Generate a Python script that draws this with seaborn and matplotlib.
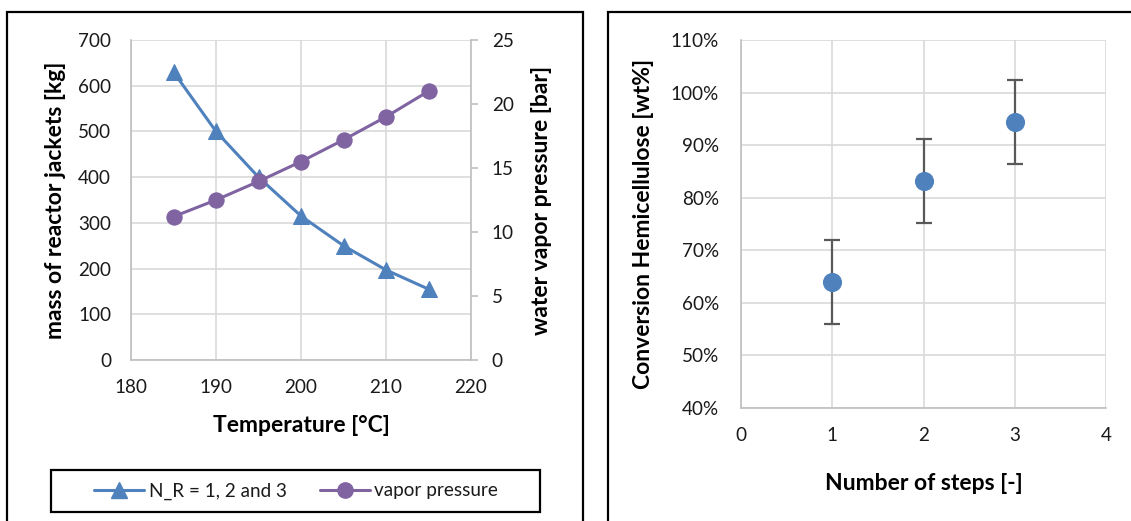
import matplotlib
matplotlib.use("Agg")
import matplotlib.pyplot as plt
import matplotlib.patches as mpatches
from matplotlib.lines import Line2D
from matplotlib.ticker import FuncFormatter, MultipleLocator
import seaborn as sns
import pandas as pd
import numpy as np

# ---- data ----
temperature = [185, 190, 195, 200, 205, 210, 215]
jacket_mass = [630, 500, 400, 315, 250, 197, 155]
vapor_pressure = [11.2, 12.5, 13.95, 15.5, 17.2, 19.0, 21.0]
steps = [1, 2, 3]
conversion = [0.640, 0.832, 0.944]
conversion_err = [0.08, 0.08, 0.08]

series1_label = "N_R = 1, 2 and 3"
series2_label = "vapor pressure"

BLUE = "#4F81BD"
PURPLE = "#8064A2"
GRID = "#d9d9d9"
SPINE = "#bfbfbf"
TXT = "#1a1a1a"

sns.set_theme(style="white")
plt.rcParams["font.family"] = ["Lato", "DejaVu Sans"]

W, H = 1131, 521
fig = plt.figure(figsize=(W / 100, H / 100), dpi=100)

def ax_rect(l, r, t, b):
    return [l / W, (H - b) / H, (r - l) / W, (b - t) / H]

def frame(l, r, t, b, lw=1.6):
    fig.patches.append(mpatches.Rectangle((l / W, (H - b) / H), (r - l) / W, (b - t) / H,
                                          transform=fig.transFigure, fill=False,
                                          edgecolor="black", linewidth=lw, zorder=0))

# panel borders
frame(7, 583, 12, 530)
frame(608, 1200, 12, 530)

TICK_FS = 13.6
LAB_FS = 16.5

# ---- left panel ----
L1, R1, T1, B1 = 131, 471, 40, 360
ax1 = fig.add_axes(ax_rect(L1, R1, T1, B1))
df1 = pd.DataFrame({"T": temperature, "m": jacket_mass, "p": vapor_pressure})
sns.lineplot(data=df1, x="T", y="m", ax=ax1, color=BLUE, marker="^", markersize=11.5,
             markeredgecolor=BLUE, linewidth=2.2, zorder=3)
ax1.set_xlim(180, 220)
ax1.set_ylim(0, 700)
ax1.xaxis.set_major_locator(MultipleLocator(10))
ax1.yaxis.set_major_locator(MultipleLocator(100))
ax1.grid(True, color=GRID, linewidth=1.2)
ax1.set_axisbelow(True)
for s in ["top", "right"]:
    ax1.spines[s].set_visible(False)
for s in ["left", "bottom"]:
    ax1.spines[s].set_color(SPINE)
    ax1.spines[s].set_linewidth(1.2)
ax1.tick_params(axis="both", length=0, labelsize=TICK_FS, labelcolor=TXT)
ax1.tick_params(axis="y", pad=14.4)
ax1.tick_params(axis="x", pad=14)
ax1.set_xlabel("Temperature [°C]", fontsize=LAB_FS, fontweight="bold", color="black")
ax1.set_ylabel("mass of reactor jackets [kg]", fontsize=LAB_FS, fontweight="bold", color="black")
ax1.xaxis.set_label_coords(0.5, -(425 - B1) / (B1 - T1))
ax1.xaxis.label.set_va("center")
ax1.yaxis.set_label_coords(-(L1 - 56) / (R1 - L1), 0.5)
ax1.yaxis.label.set_va("center")

ax2 = ax1.twinx()
sns.lineplot(data=df1, x="T", y="p", ax=ax2, color=PURPLE, marker="o", markersize=11,
             markeredgecolor=PURPLE, linewidth=2.2, zorder=3)
ax2.set_ylim(0, 25)
ax2.yaxis.set_major_locator(MultipleLocator(5))
ax2.grid(False)
for s in ["top", "left", "bottom"]:
    ax2.spines[s].set_visible(False)
ax2.spines["right"].set_color(SPINE)
ax2.spines["right"].set_linewidth(1.2)
ax2.tick_params(axis="y", length=5, width=1.2, color=SPINE, labelsize=TICK_FS,
                labelcolor=TXT, pad=10, direction="out")
ax2.set_ylabel("water vapor pressure [bar]", fontsize=LAB_FS, fontweight="bold", color="black")
ax2.yaxis.set_label_coords(1 + (542 - R1) / (R1 - L1), 0.5)
ax2.yaxis.label.set_va("center")
ax2.set_xlabel("")

# legend
frame(51, 540, 470, 512)
handles = [Line2D([], [], color=BLUE, marker="^", markersize=11.5, linewidth=2.2),
           Line2D([], [], color=PURPLE, marker="o", markersize=11, linewidth=2.2)]
leg = fig.legend(handles, [series1_label, series2_label], ncol=2,
                 loc="center", bbox_to_anchor=(296 / W, 1 - 491 / H),
                 frameon=False, fontsize=TICK_FS, handlelength=2.65, handletextpad=0.26,
                 columnspacing=1.75, borderpad=0.3)
for t in leg.get_texts():
    t.set_color(TXT)

# ---- right panel ----
L3, R3, T3, B3 = 741, 1106, 40, 408
ax3 = fig.add_axes(ax_rect(L3, R3, T3, B3))
df2 = pd.DataFrame({"n": steps, "c": conversion, "e": conversion_err})
ax3.errorbar(df2["n"], df2["c"], yerr=df2["e"], fmt="none", ecolor="#595959",
             elinewidth=1.6, capsize=6, capthick=1.6, zorder=2)
sns.scatterplot(data=df2, x="n", y="c", ax=ax3, color=BLUE, s=190, edgecolor=BLUE,
                linewidth=0, zorder=3)
ax3.set_xlim(0, 4)
ax3.set_ylim(0.4, 1.1)
ax3.xaxis.set_major_locator(MultipleLocator(1))
ax3.yaxis.set_major_locator(MultipleLocator(0.1))
ax3.yaxis.set_major_formatter(FuncFormatter(lambda v, p: f"{v * 100:.0f}%"))
ax3.grid(True, color=GRID, linewidth=1.2)
ax3.set_axisbelow(True)
for s in ["top", "right"]:
    ax3.spines[s].set_visible(False)
for s in ["left", "bottom"]:
    ax3.spines[s].set_color(SPINE)
    ax3.spines[s].set_linewidth(1.2)
ax3.tick_params(axis="both", length=0, labelsize=TICK_FS, labelcolor=TXT)
ax3.tick_params(axis="y", pad=16)
ax3.tick_params(axis="x", pad=14)
ax3.set_xlabel("Number of steps [-]", fontsize=LAB_FS, fontweight="bold", color="black")
ax3.set_ylabel("Conversion Hemicellulose [wt%]", fontsize=LAB_FS, fontweight="bold", color="black")
ax3.xaxis.set_label_coords(0.5, -(483 - B3) / (B3 - T3))
ax3.xaxis.label.set_va("center")
ax3.yaxis.set_label_coords(-(L3 - 643) / (R3 - L3), 0.5)
ax3.yaxis.label.set_va("center")

fig.savefig("out.png", dpi=100, facecolor="white")
